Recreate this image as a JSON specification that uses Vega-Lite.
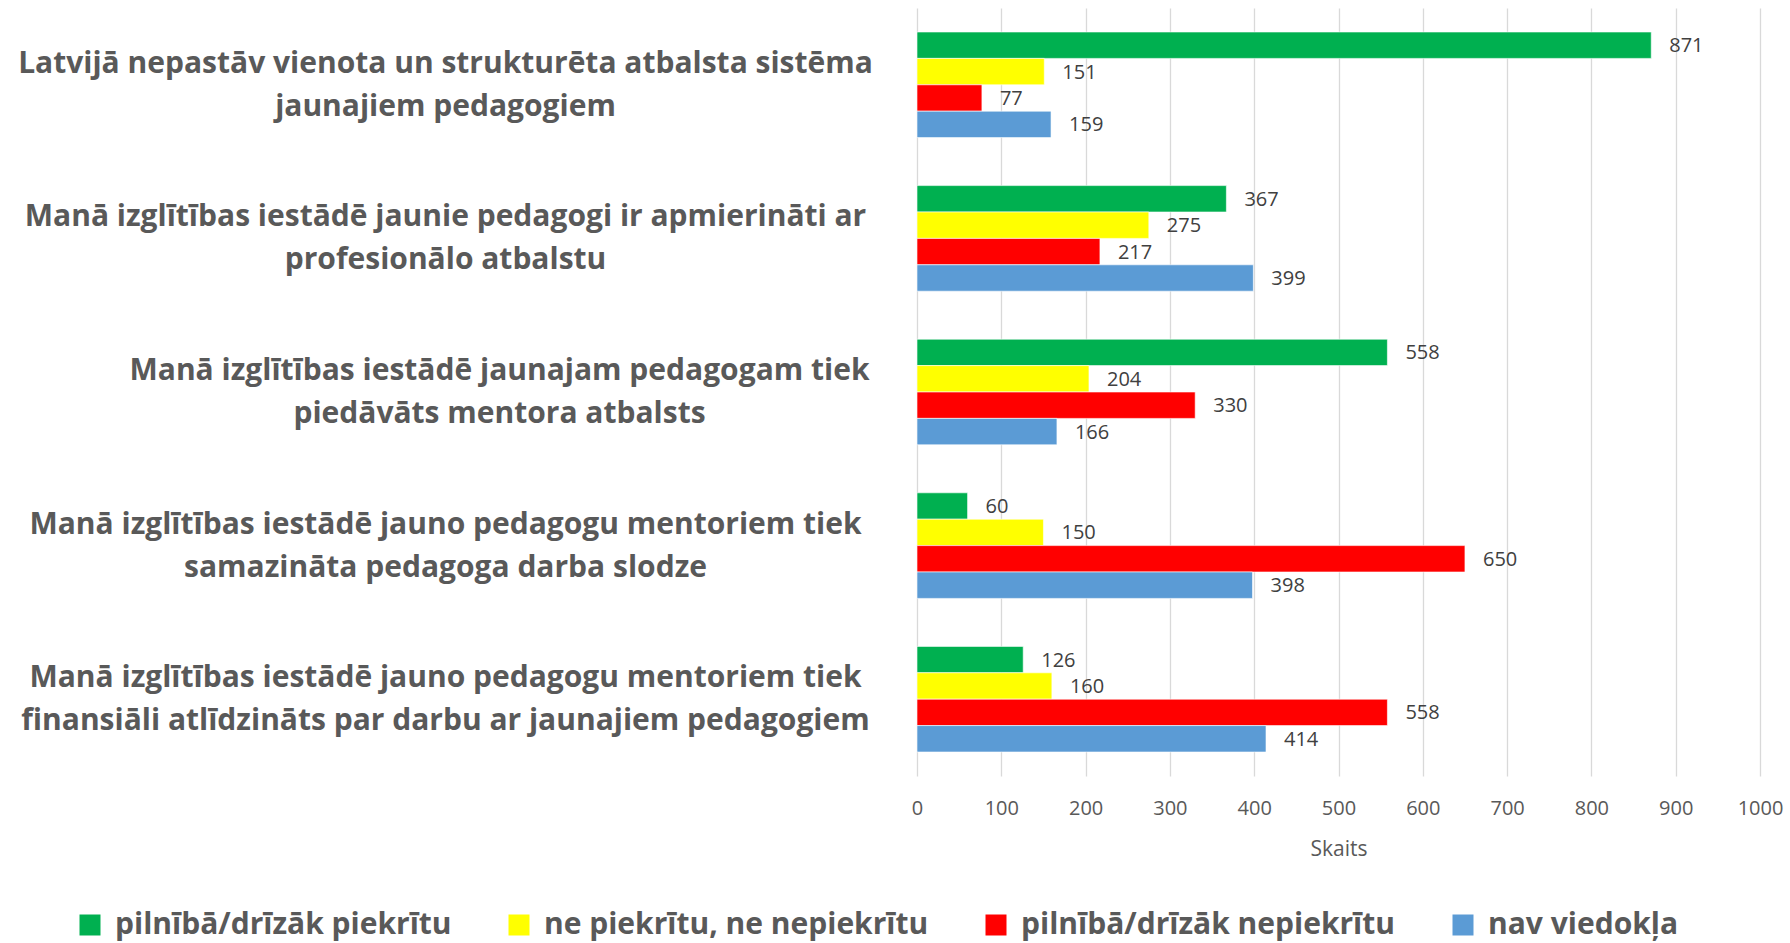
{
  "$schema": "https://vega.github.io/schema/vega-lite/v6.json",
  "autosize": {"type": "none"},
  "width": 843,
  "height": 768,
  "padding": {"left": 917, "top": 8, "right": 30, "bottom": 167},
  "background": "white",
  "data": {
    "values": [
      {"q": "Latvijā nepastāv vienota un strukturēta atbalsta sistēma|jaunajiem pedagogiem", "series": "pilnībā/drīzāk piekrītu", "count": 871},
      {"q": "Latvijā nepastāv vienota un strukturēta atbalsta sistēma|jaunajiem pedagogiem", "series": "ne piekrītu, ne nepiekrītu", "count": 151},
      {"q": "Latvijā nepastāv vienota un strukturēta atbalsta sistēma|jaunajiem pedagogiem", "series": "pilnībā/drīzāk nepiekrītu", "count": 77},
      {"q": "Latvijā nepastāv vienota un strukturēta atbalsta sistēma|jaunajiem pedagogiem", "series": "nav viedokļa", "count": 159},
      {"q": "Manā izglītības iestādē jaunie pedagogi ir apmierināti ar|profesionālo atbalstu", "series": "pilnībā/drīzāk piekrītu", "count": 367},
      {"q": "Manā izglītības iestādē jaunie pedagogi ir apmierināti ar|profesionālo atbalstu", "series": "ne piekrītu, ne nepiekrītu", "count": 275},
      {"q": "Manā izglītības iestādē jaunie pedagogi ir apmierināti ar|profesionālo atbalstu", "series": "pilnībā/drīzāk nepiekrītu", "count": 217},
      {"q": "Manā izglītības iestādē jaunie pedagogi ir apmierināti ar|profesionālo atbalstu", "series": "nav viedokļa", "count": 399},
      {"q": "Manā izglītības iestādē jaunajam pedagogam tiek|piedāvāts mentora atbalsts", "series": "pilnībā/drīzāk piekrītu", "count": 558},
      {"q": "Manā izglītības iestādē jaunajam pedagogam tiek|piedāvāts mentora atbalsts", "series": "ne piekrītu, ne nepiekrītu", "count": 204},
      {"q": "Manā izglītības iestādē jaunajam pedagogam tiek|piedāvāts mentora atbalsts", "series": "pilnībā/drīzāk nepiekrītu", "count": 330},
      {"q": "Manā izglītības iestādē jaunajam pedagogam tiek|piedāvāts mentora atbalsts", "series": "nav viedokļa", "count": 166},
      {"q": "Manā izglītības iestādē jauno pedagogu mentoriem tiek|samazināta pedagoga darba slodze", "series": "pilnībā/drīzāk piekrītu", "count": 60},
      {"q": "Manā izglītības iestādē jauno pedagogu mentoriem tiek|samazināta pedagoga darba slodze", "series": "ne piekrītu, ne nepiekrītu", "count": 150},
      {"q": "Manā izglītības iestādē jauno pedagogu mentoriem tiek|samazināta pedagoga darba slodze", "series": "pilnībā/drīzāk nepiekrītu", "count": 650},
      {"q": "Manā izglītības iestādē jauno pedagogu mentoriem tiek|samazināta pedagoga darba slodze", "series": "nav viedokļa", "count": 398},
      {"q": "Manā izglītības iestādē jauno pedagogu mentoriem tiek|finansiāli atlīdzināts par darbu ar jaunajiem pedagogiem", "series": "pilnībā/drīzāk piekrītu", "count": 126},
      {"q": "Manā izglītības iestādē jauno pedagogu mentoriem tiek|finansiāli atlīdzināts par darbu ar jaunajiem pedagogiem", "series": "ne piekrītu, ne nepiekrītu", "count": 160},
      {"q": "Manā izglītības iestādē jauno pedagogu mentoriem tiek|finansiāli atlīdzināts par darbu ar jaunajiem pedagogiem", "series": "pilnībā/drīzāk nepiekrītu", "count": 558},
      {"q": "Manā izglītības iestādē jauno pedagogu mentoriem tiek|finansiāli atlīdzināts par darbu ar jaunajiem pedagogiem", "series": "nav viedokļa", "count": 414}
    ]
  },
  "encoding": {
    "y": {
      "field": "q",
      "type": "nominal",
      "sort": null,
      "title": null,
      "scale": {"paddingInner": 0.3125, "paddingOuter": 0.15625},
      "axis": {
        "labelExpr": "split(datum.value, '|')",
        "labelAlign": "center",
        "labelBaseline": "middle",
        "labelOffset": -21,
        "labelPadding": {"condition": {"test": "indexof(datum.value, 'jaunajam') >= 0", "value": 418}, "value": 472},
        "labelFont": "Open Sans",
        "labelFontWeight": "bold",
        "labelFontSize": 30,
        "labelLineHeight": 43,
        "labelColor": "#595959",
        "labelLimit": 2000,
        "ticks": false,
        "tickSize": 0,
        "domain": false,
        "grid": false
      }
    },
    "yOffset": {
      "field": "series",
      "type": "nominal",
      "sort": ["pilnībā/drīzāk piekrītu", "ne piekrītu, ne nepiekrītu", "pilnībā/drīzāk nepiekrītu", "nav viedokļa"],
      "scale": {"paddingInner": 0, "paddingOuter": 0}
    },
    "x": {
      "field": "count",
      "type": "quantitative",
      "title": "Skaits",
      "scale": {"domain": [0, 1000], "nice": false},
      "axis": {
        "values": [0, 100, 200, 300, 400, 500, 600, 700, 800, 900, 1000],
        "format": "d",
        "labelFlush": false,
        "grid": true,
        "gridColor": "#D9D9D9",
        "gridWidth": 1.3,
        "domain": false,
        "ticks": false,
        "labelFont": "Open Sans",
        "labelFontSize": 20,
        "labelColor": "#595959",
        "labelPadding": 22,
        "titleFont": "Open Sans",
        "titleFontSize": 21,
        "titleFontWeight": "normal",
        "titleColor": "#595959",
        "titlePadding": 20
      }
    }
  },
  "layer": [
    {
      "mark": {"type": "bar", "stroke": "white", "strokeWidth": 0.6},
      "encoding": {
        "color": {
          "field": "series",
          "type": "nominal",
          "sort": ["pilnībā/drīzāk piekrītu", "ne piekrītu, ne nepiekrītu", "pilnībā/drīzāk nepiekrītu", "nav viedokļa"],
          "scale": {
            "domain": ["pilnībā/drīzāk piekrītu", "ne piekrītu, ne nepiekrītu", "pilnībā/drīzāk nepiekrītu", "nav viedokļa"],
            "range": ["#00B050", "#FFFF00", "#FF0000", "#5B9BD5"]
          },
          "legend": {
            "title": null,
            "orient": "none",
            "direction": "horizontal",
            "legendX": -842,
            "legendY": 902,
            "symbolType": "square",
            "symbolSize": 441,
            "symbolStrokeWidth": 0,
            "symbolOpacity": 1,
            "labelFont": "Open Sans",
            "labelFontWeight": "bold",
            "labelFontSize": 30,
            "labelColor": "#595959",
            "labelLimit": 1000,
            "labelOffset": 10,
            "columnPadding": 52
          }
        }
      }
    },
    {
      "mark": {"type": "text", "align": "left", "baseline": "middle", "dx": 18, "dy": 1, "font": "Open Sans", "fontSize": 20, "color": "#404040"},
      "encoding": {
        "text": {"field": "count", "type": "quantitative"}
      }
    }
  ],
  "config": {"view": {"stroke": null}}
}
